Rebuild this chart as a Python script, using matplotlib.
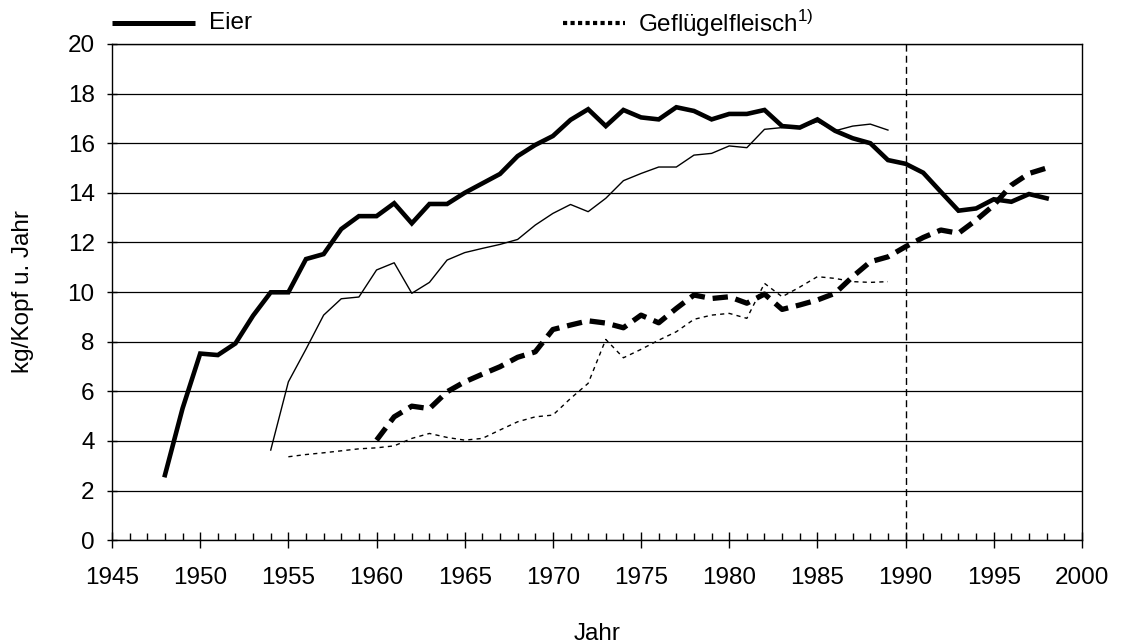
import numpy as np
import matplotlib
matplotlib.use("Agg")
import matplotlib.pyplot as plt
from matplotlib.lines import Line2D
from matplotlib.ticker import MultipleLocator

plt.rcParams['font.family'] = ['Liberation Sans', 'DejaVu Sans']
plt.rcParams['mathtext.fontset'] = 'custom'
plt.rcParams['mathtext.rm'] = 'Liberation Sans'

# Eier, Westdeutschland bzw. Deutschland (dicke Linie)
eier_west_jahre = list(range(1948, 1999))
eier_west = [2.62, 5.31, 7.52, 7.46, 7.93, 9.05, 9.99, 9.99, 11.33, 11.53,
             12.54, 13.06, 13.06, 13.58, 12.77, 13.55, 13.55, 14.0, 14.38, 14.76,
             15.48, 15.93, 16.29, 16.94, 17.37, 16.69, 17.34, 17.04, 16.96, 17.45,
             17.3, 16.96, 17.18, 17.18, 17.34, 16.69, 16.63, 16.96, 16.5, 16.2,
             16.0, 15.32, 15.17, 14.81, 14.04, 13.28, 13.37, 13.74, 13.64, 13.95,
             13.78]

# Eier, DDR (duenne Linie)
eier_ost_jahre = list(range(1954, 1990))
eier_ost = [3.63, 6.38, 7.7, 9.07, 9.73, 9.8, 10.89, 11.18, 9.95, 10.39,
            11.29, 11.59, 11.76, 11.92, 12.12, 12.7, 13.17, 13.53, 13.24, 13.78,
            14.49, 14.78, 15.04, 15.04, 15.52, 15.59, 15.89, 15.82, 16.56, 16.63,
            16.63, 16.87, 16.5, 16.69, 16.77, 16.53]

# Gefluegelfleisch, Westdeutschland bzw. Deutschland (dick gestrichelt)
gefl_west_jahre = list(range(1960, 1999))
gefl_west = [4.03, 4.97, 5.4, 5.3, 5.98, 6.38, 6.69, 6.99, 7.37, 7.59,
             8.49, 8.67, 8.84, 8.75, 8.56, 9.07, 8.76, 9.34, 9.88, 9.74,
             9.81, 9.55, 9.92, 9.3, 9.48, 9.68, 9.95, 10.62, 11.22, 11.42,
             11.83, 12.2, 12.5, 12.37, 12.9, 13.5, 14.31, 14.78, 15.0]

# Gefluegelfleisch, DDR (duenn gepunktet)
gefl_ost_jahre = list(range(1955, 1990))
gefl_ost = [3.36, 3.45, 3.52, 3.6, 3.68, 3.72, 3.8, 4.1, 4.3, 4.14,
            4.03, 4.1, 4.44, 4.77, 4.97, 5.04, 5.71, 6.32, 8.09, 7.35,
            7.69, 8.06, 8.4, 8.9, 9.07, 9.14, 8.94, 10.35, 9.81, 10.2,
            10.62, 10.55, 10.42, 10.39, 10.42]

wende_jahr = 1990

fs = 17.5

fig = plt.figure(figsize=(11.27, 6.43), dpi=100)
ax = fig.add_axes([0.0994, 0.160, 0.8606, 0.7716])

ax.set_axisbelow(True)
ax.yaxis.grid(True, color='black', lw=0.9)

ax.plot(eier_west_jahre, eier_west, color='black', lw=3.3, solid_joinstyle='miter', zorder=4)
ax.plot(eier_ost_jahre, eier_ost, color='black', lw=1.0, zorder=3)
ax.plot(gefl_west_jahre, gefl_west, color='black', lw=3.8, dashes=(2.9, 1.5), zorder=4)
ax.plot(gefl_ost_jahre, gefl_ost, color='black', lw=1.0, dashes=(3, 3), zorder=3)

ax.axvline(wende_jahr, color='black', lw=1.0, dashes=(5, 3), zorder=2)

ax.set_xlim(1945, 2000)
ax.set_ylim(0, 20)
ax.xaxis.set_major_locator(MultipleLocator(5))
ax.xaxis.set_minor_locator(MultipleLocator(1))
ax.yaxis.set_major_locator(MultipleLocator(2))
ax.tick_params(axis='x', which='major', direction='inout', length=11, width=1, pad=14, labelsize=fs)
ax.tick_params(axis='x', which='minor', direction='in', length=5, width=1)
ax.tick_params(axis='y', which='major', direction='inout', length=7, width=1, pad=9, labelsize=fs)

for s in ax.spines.values():
    s.set_color('black')
    s.set_linewidth(1.0)

ax.set_xlabel('Jahr', fontsize=fs, labelpad=24)
ax.set_ylabel('kg/Kopf u. Jahr', fontsize=fs, labelpad=24)

# Legende oberhalb der Grafik
ax.add_line(Line2D([1945, 1949.7], [20.83, 20.83], color='black', lw=3.6,
                   solid_capstyle='butt', clip_on=False))
ax.text(1950.5, 20.83, 'Eier', fontsize=fs, va='center', ha='left')
ax.add_line(Line2D([1970.6, 1974.1], [20.83, 20.83], color='black', lw=3.0,
                   dashes=(1, 0.8), clip_on=False))
ax.text(1974.8, 20.83, r'Geflügelfleisch$^{\mathrm{1)}}$', fontsize=fs, va='center', ha='left')

fig.savefig('out.png', dpi=100)
